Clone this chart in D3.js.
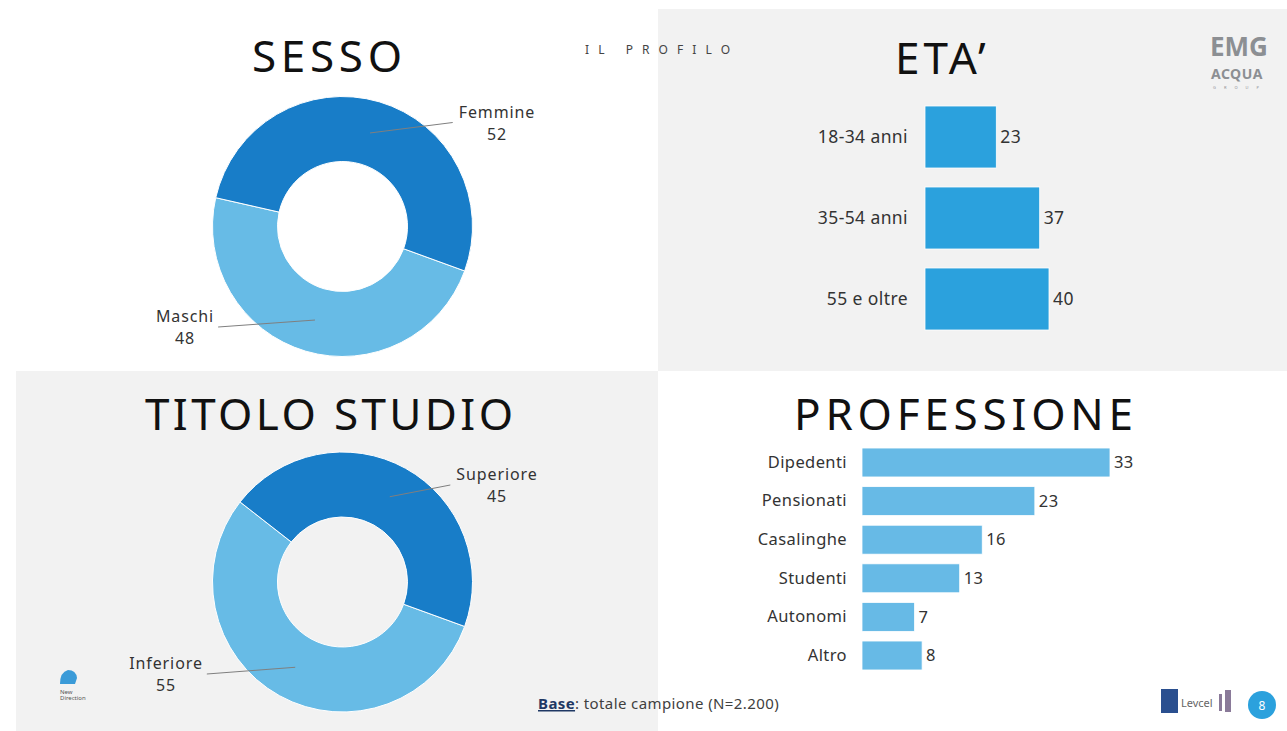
<!DOCTYPE html>
<html>
<head>
<meta charset="utf-8">
<script src="https://cdn.jsdelivr.net/npm/d3@7"></script>
<style>
  body { margin: 0; background: #fff; }
  text { font-family: "Noto Sans", sans-serif; fill: #333; }
  .axis text { fill: #333; }
</style>
</head>
<body>
<div class="chart"></div>
<script>
const sessoLabels = ["Maschi", "Femmine"];
const sessoValues = [48, 52];
const studioLabels = ["Inferiore", "Superiore"];
const studioValues = [55, 45];
const etaLabels = ["18-34 anni", "35-54 anni", "55 e oltre"];
const etaValues = [23, 37, 40];
const profLabels = ["Dipedenti", "Pensionati", "Casalinghe", "Studenti", "Autonomi", "Altro"];
const profValues = [33, 23, 16, 13, 7, 8];

const width = 1287, height = 731;
const darkBlue = "#187dc8", lightBlue = "#67bbe6", ageBlue = "#2ba1dd", profBlue = "#67bae6";

let svg = d3.select(".chart").append("svg")
    .attr("width", width)
    .attr("height", height);

// panels
svg.append("rect").attr("x", 658).attr("y", 9).attr("width", 629).attr("height", 362).attr("fill", "#f2f2f2");
svg.append("rect").attr("x", 16).attr("y", 371).attr("width", 642).attr("height", 360).attr("fill", "#f2f2f2");

// titles
function title(txt, x, y, len) {
  let t = svg.append("text")
    .attr("x", x).attr("y", y)
    .style("font-size", "44px")
    .style("fill", "#111")
    .text(txt);
  if (len) t.attr("textLength", len).attr("lengthAdjust", "spacing");
  else t.style("letter-spacing", "4px");
}
title("SESSO", 252, 72, 150);
title("ETA’", 895, 74, null);
title("TITOLO STUDIO", 145, 430, 368);
title("PROFESSIONE", 794, 430, 339);

svg.append("text")
  .attr("x", 585).attr("y", 54)
  .attr("textLength", 145).attr("lengthAdjust", "spacing")
  .style("font-size", "12px").style("fill", "#444")
  .text("IL PROFILO");

// donuts
const arc = d3.arc().innerRadius(65).outerRadius(130);
const a0 = 110 * Math.PI / 180;

function donut(cx, cy, labels, values, lab) {
  let data = labels.map((l, i) => ({label: l, value: values[i]}));
  let pie = d3.pie().sort(null).value(d => d.value)
    .startAngle(a0).endAngle(a0 + 2 * Math.PI);
  let g = svg.append("g").attr("transform", "translate(" + cx + "," + cy + ")");
  let arcs = pie(data);
  g.selectAll("path")
    .data(arcs)
    .enter().append("path")
      .attr("d", arc)
      .attr("fill", (d, i) => i === 0 ? lightBlue : darkBlue)
      .attr("stroke", "#fff")
      .attr("stroke-width", 1);

  arcs.forEach((d, i) => {
    let p = lab[i];
    let name = svg.append("text")
      .attr("x", p[0]).attr("y", p[1])
      .attr("text-anchor", "middle")
      .style("font-size", "16px")
      .style("letter-spacing", "0.9px")
      .text(d.data.label);
    svg.append("text")
      .attr("x", p[0]).attr("y", p[1] + 22)
      .attr("text-anchor", "middle")
      .style("font-size", "16px")
      .style("letter-spacing", "0.9px")
      .text(d.value);
    let w = name.node().getBBox().width;
    let c = arc.centroid(d);
    let ex = p[2] > 0 ? p[0] - w / 2 - 6 : p[0] + w / 2 + 4;
    svg.append("line")
      .attr("x1", cx + c[0]).attr("y1", cy + c[1])
      .attr("x2", ex).attr("y2", p[1] + 5)
      .attr("stroke", "#7f7f7f").attr("stroke-width", 1);
  });
}

donut(342.5, 226.5, sessoLabels, sessoValues, [[185, 322, -1], [497, 117.5, 1]]);
donut(342.5, 582, studioLabels, studioValues, [[166, 669, -1], [497, 480, 1]]);

// horizontal bars
function bars(labels, values, x0, xMax, wMax, yRange, pad, color, padTick, fs) {
  let x = d3.scaleLinear().domain([0, xMax]).range([x0, x0 + wMax]);
  let y = d3.scaleBand().domain(labels).range(yRange).paddingInner(pad).paddingOuter(pad / 2);
  let data = labels.map((l, i) => ({label: l, value: values[i]}));
  let g = svg.append("g");
  g.selectAll(".bar")
    .data(data)
    .enter().append("rect")
      .attr("class", "bar")
      .attr("x", x(0))
      .attr("y", d => y(d.label))
      .attr("width", d => x(d.value) - x(0))
      .attr("height", y.bandwidth())
      .attr("fill", color)
      .attr("stroke", "#fff").attr("stroke-width", 0.8);
  g.selectAll(".val")
    .data(data)
    .enter().append("text")
      .attr("class", "val")
      .attr("x", d => x(d.value) + 4)
      .attr("y", d => y(d.label) + y.bandwidth() / 2)
      .attr("dy", "0.35em")
      .style("font-size", fs + "px")
      .style("letter-spacing", "0.4px")
      .text(d => d.value);
  let ax = svg.append("g")
      .attr("class", "axis")
      .attr("transform", "translate(" + x0 + ",0)")
      .call(d3.axisLeft(y).tickSize(0).tickPadding(padTick));
  ax.select(".domain").remove();
  ax.selectAll("text")
    .style("font-size", fs + "px")
    .style("letter-spacing", "0.4px")
    .style("font-family", "'Noto Sans', sans-serif");
}

bars(etaLabels, etaValues, 925, 40, 124, [96.5, 339.5], 19 / 81, ageBlue, 17, 17.5);
bars(profLabels, profValues, 862, 33, 248, [443.2, 674.8], 0.25, profBlue, 15, 16.5);

// base note
let base = svg.append("text").attr("x", 538).attr("y", 709)
  .style("font-size", "15px").style("letter-spacing", "0.4px").style("fill", "#404040");
base.append("tspan").style("font-weight", "bold").style("fill", "#1f3864").style("text-decoration", "underline").text("Base");
base.append("tspan").text(": totale campione (N=2.200)");

// page number
svg.append("circle").attr("cx", 1262).attr("cy", 705).attr("r", 14).attr("fill", ageBlue);
svg.append("text").attr("x", 1262).attr("y", 709.5).attr("text-anchor", "middle")
  .style("font-size", "12px").style("fill", "#fff").text("8");

// logos (approximate)
svg.append("text").attr("x", 1210).attr("y", 56).style("font-size", "26px").style("font-weight", "bold")
  .style("fill", "#8c8f93").text("EMG");
svg.append("text").attr("x", 1211).attr("y", 79).style("font-size", "14px").style("font-weight", "bold")
  .style("letter-spacing", "0.5px").style("fill", "#8c8f93").text("ACQUA");
svg.append("text").attr("x", 1213).attr("y", 89).style("font-size", "4px").style("letter-spacing", "8px")
  .style("fill", "#8c8f93").text("GROUP");

svg.append("path").attr("d", "M60,684 q0,-12 8,-14 q8,0 9,8 l-2,6 z").attr("fill", "#3b9bd8");
svg.append("text").attr("x", 60).attr("y", 694).style("font-size", "6px").style("fill", "#555").text("New");
svg.append("text").attr("x", 60).attr("y", 700).style("font-size", "6px").style("fill", "#555").text("Direction");

svg.append("rect").attr("x", 1161).attr("y", 689).attr("width", 17).attr("height", 24).attr("fill", "#2a4f8f");
svg.append("text").attr("x", 1181).attr("y", 707).style("font-size", "11px").style("fill", "#666").text("Levcel");
svg.append("rect").attr("x", 1219).attr("y", 694).attr("width", 3).attr("height", 17).attr("fill", "#8a7a99");
svg.append("rect").attr("x", 1225).attr("y", 690).attr("width", 6).attr("height", 22).attr("fill", "#8a7a99");
</script>
</body>
</html>
